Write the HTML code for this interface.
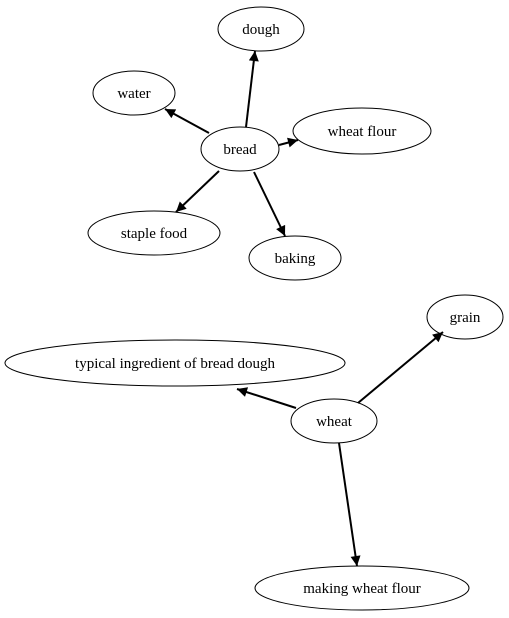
<!DOCTYPE html>
<html><head><meta charset="utf-8"><style>
html,body{margin:0;padding:0;background:#fff;}
svg{display:block;}
text{font-family:"Liberation Serif",serif;font-size:15px;fill:#000;text-anchor:middle;dominant-baseline:central;}
ellipse{fill:none;stroke:#000;stroke-width:1;}
line{stroke:#000;stroke-width:2;}
</style></head><body>
<svg width="509" height="618" viewBox="0 0 509 618">
<defs>
<marker id="a" viewBox="0 0 10 10" refX="10" refY="5" markerWidth="6" markerHeight="5" orient="auto" markerUnits="strokeWidth">
<path d="M0,0 L10,5 L0,10 z" fill="#000"/>
</marker>
</defs>
<g transform="translate(0,1)">
<text x="261" y="29">dough</text>
<text x="134" y="93">water</text>
<text x="240" y="149">bread</text>
<text x="362" y="131">wheat flour</text>
<text x="154" y="233">staple food</text>
<text x="295" y="258">baking</text>
<text x="465" y="317">grain</text>
<text x="175" y="363">typical ingredient of bread dough</text>
<text x="334" y="421">wheat</text>
<text x="362" y="588">making wheat flour</text>
</g>
<ellipse cx="261" cy="29" rx="43" ry="22"/>
<ellipse cx="134" cy="93" rx="41" ry="22"/>
<ellipse cx="240" cy="149" rx="39" ry="22"/>
<ellipse cx="362" cy="131" rx="69" ry="23"/>
<ellipse cx="154" cy="233" rx="66" ry="22"/>
<ellipse cx="295" cy="258" rx="46" ry="22"/>
<ellipse cx="465" cy="317" rx="38" ry="22"/>
<ellipse cx="175" cy="363" rx="170" ry="23"/>
<ellipse cx="334" cy="421" rx="43" ry="22"/>
<ellipse cx="362" cy="588" rx="107" ry="22"/>
<line x1="246" y1="127" x2="255" y2="51" marker-end="url(#a)"/>
<line x1="209" y1="133" x2="165" y2="109" marker-end="url(#a)"/>
<line x1="279" y1="145" x2="298" y2="140" marker-end="url(#a)"/>
<line x1="219" y1="171" x2="176" y2="212" marker-end="url(#a)"/>
<line x1="254" y1="172" x2="285" y2="236" marker-end="url(#a)"/>
<line x1="358" y1="403" x2="443" y2="332" marker-end="url(#a)"/>
<line x1="296" y1="408" x2="237" y2="389" marker-end="url(#a)"/>
<line x1="339" y1="443" x2="357" y2="566" marker-end="url(#a)"/>
</svg>
</body></html>
